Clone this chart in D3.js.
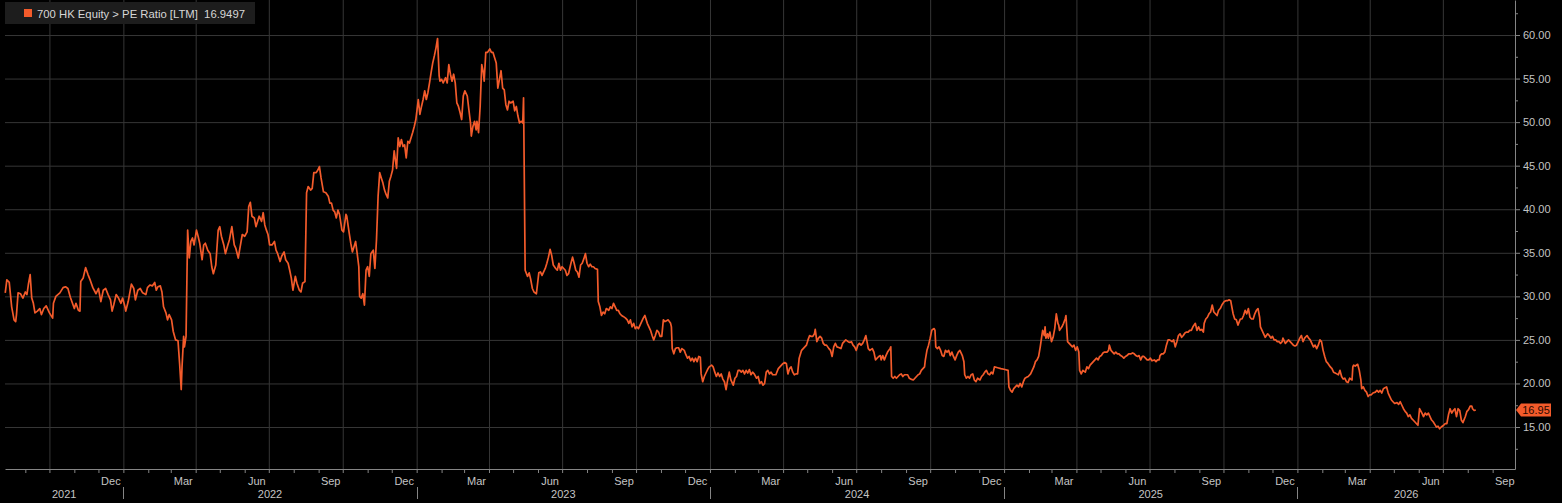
<!DOCTYPE html>
<html>
<head>
<meta charset="utf-8">
<script src="https://cdn.jsdelivr.net/npm/d3@7"></script>
<style>
  html, body { margin: 0; padding: 0; background: #000; }
  svg { display: block; font-family: "Liberation Sans", Arial, sans-serif; }
</style>
</head>
<body>
<div id="chart"></div>
<script>
// 700 HK Equity - PE Ratio [LTM] (MM-DD per year)
const d21 = ["08-07","08-09","08-12","08-15","08-18","08-20","08-21","08-23","08-26","08-29",
  "09-01","09-03","09-05","09-07","09-09","09-11","09-13","09-16","09-19","09-21",
  "09-24","09-27","10-01","10-05","10-06","10-09","10-14","10-18","10-21","10-24",
  "10-27","11-01","11-03","11-06","11-08","11-09","11-12","11-15","11-18","11-21",
  "11-24","11-28","12-01","12-04","12-07","12-10","12-13","12-16","12-18","12-20",
  "12-23","12-26","12-29","12-31"];
const v21 = [30.4,31.9,31.6,28.8,27.3,27.1,27.9,30.4,30.3,29.8,
  30.5,30.2,31.5,32.5,29.8,29.2,28.1,28.3,28.6,27.9,
  28.6,28.9,28.1,27.5,29.2,30.0,30.4,31.0,31.1,30.9,
  29.9,28.6,29.2,28.4,28.3,31.7,32.1,33.3,32.5,31.8,
  31.0,30.3,30.9,29.4,30.7,30.9,30.2,29.6,28.3,29.0,
  30.2,29.8,29.2,29.8];

const d22 = ["01-03","01-04","01-07","01-09","01-11","01-14","01-16","01-19","01-22","01-25",
  "01-29","01-31","02-03","02-06","02-09","02-11","02-13","02-16","02-18","02-20",
  "02-23","02-25","02-27","03-02","03-04","03-07","03-10","03-12","03-14","03-15",
  "03-17","03-18","03-20","03-22","03-24","03-26","03-28","03-30","04-02","04-04",
  "04-06","04-09","04-11","04-13","04-16","04-19","04-21","04-23","04-26","04-29",
  "05-01","05-03","05-06","05-08","05-11","05-13","05-16","05-19","05-21","05-24",
  "05-26","05-29","06-01","06-04","06-06","06-08","06-10","06-13","06-15","06-19",
  "06-22","06-24","06-26","06-28","06-30","07-02","07-05","07-08","07-10","07-12",
  "07-15","07-17","07-20","07-22","07-25","07-27","07-29","07-31","08-03","08-05",
  "08-08","08-10","08-12","08-15","08-17","08-19","08-22","08-24","08-26","08-29",
  "08-31","09-02","09-04","09-07","09-10","09-13","09-15","09-17","09-19","09-21",
  "09-23","09-25","09-27","09-30","10-02","10-05","10-06","10-09","10-11","10-13",
  "10-15","10-17","10-19","10-21","10-22","10-24","10-26","10-28","10-30","11-01",
  "11-03","11-05","11-08","11-10","11-12","11-14","11-16","11-18","11-20","11-22",
  "11-24","11-26","11-28","11-30","12-02","12-04","12-07","12-09","12-11","12-13",
  "12-15","12-17","12-19","12-21","12-23","12-25","12-27","12-29","12-31"];
const v22 = [28.8,28.3,29.4,30.4,31.4,30.9,29.6,30.7,30.9,30.4,
  30.2,31.0,31.3,31.2,31.6,30.7,31.1,31.2,30.5,28.8,
  28.1,27.3,27.9,27.3,26.0,25.0,24.9,22.3,19.3,21.9,
  25.4,24.2,25.4,37.6,34.4,36.3,36.7,35.9,37.6,36.9,
  36.1,34.2,35.9,36.1,35.3,34.9,33.4,32.6,33.6,37.6,
  38.0,36.9,35.9,34.9,35.9,36.5,38.0,35.9,35.5,34.4,
  35.5,37.1,36.9,37.4,40.3,40.8,39.2,39.0,38.0,39.2,
  38.6,39.6,38.2,37.6,37.1,35.9,35.9,36.3,35.3,34.9,
  34.0,34.6,35.1,34.2,33.8,33.0,32.1,30.7,32.3,31.5,
  30.7,30.5,31.5,31.7,41.9,42.6,42.2,42.4,44.2,44.2,
  44.5,44.9,43.6,42.0,41.9,41.5,40.7,40.7,39.9,39.7,
  39.0,39.9,39.4,37.6,37.4,39.4,39.2,37.3,36.1,35.1,
  35.7,36.3,34.9,33.4,30.0,29.8,30.3,29.0,33.0,33.4,
  32.3,34.9,35.3,33.2,36.5,41.5,44.2,43.6,43.0,42.2,
  41.7,41.3,43.2,43.8,44.5,46.7,44.7,48.2,47.2,48.0,
  47.2,47.4,45.9,47.8,47.6,48.2,48.8,49.5,50.3];

const d23 = ["01-03","01-05","01-07","01-09","01-11","01-13","01-15","01-17","01-19","01-21",
  "01-23","01-25","01-27","01-29","01-30","02-01","02-03","02-06","02-08","02-10",
  "02-12","02-14","02-16","02-18","02-20","02-22","02-24","02-26","02-28","03-02",
  "03-05","03-07","03-09","03-10","03-12","03-14","03-16","03-17","03-19","03-21",
  "03-23","03-25","03-26","03-28","03-30","04-02","04-04","04-06","04-08","04-10",
  "04-12","04-14","04-16","04-18","04-20","04-22","04-24","04-26","04-28","05-01",
  "05-03","05-05","05-07","05-09","05-11","05-13","05-14","05-16","05-19","05-21",
  "05-23","05-25","05-27","05-30","06-02","06-04","06-06","06-08","06-10","06-12",
  "06-14","06-16","06-18","06-20","06-23","06-25","06-27","06-29","07-01","07-03",
  "07-05","07-07","07-09","07-12","07-14","07-16","07-18","07-20","07-22","07-24",
  "07-26","07-28","07-30","08-01","08-03","08-05","08-07","08-09","08-11","08-14",
  "08-15","08-17","08-19","08-21","08-23","08-25","08-28","08-30","09-01","09-03",
  "09-05","09-07","09-09","09-11","09-13","09-15","09-18","09-20","09-22","09-24",
  "09-26","09-28","09-30","10-02","10-04","10-06","10-08","10-10","10-12","10-15",
  "10-17","10-19","10-21","10-23","10-25","10-27","10-29","10-31","11-02","11-04",
  "11-06","11-08","11-10","11-13","11-14","11-15","11-17","11-19","11-21","11-23",
  "11-25","11-27","11-30","12-02","12-04","12-06","12-08","12-10","12-12","12-14",
  "12-16","12-18","12-20","12-21","12-23","12-25","12-27","12-29","12-31"];
const v23 = [52.6,50.9,51.8,52.6,53.6,52.6,53.4,54.5,55.7,56.8,
  57.6,58.5,59.6,55.3,54.7,54.9,54.5,55.1,54.5,56.6,
  55.5,54.7,55.5,54.5,52.2,51.8,51.1,50.3,53.0,53.6,
  53.0,51.4,49.9,48.4,49.5,50.1,49.1,50.1,48.8,51.8,
  56.6,55.7,54.7,58.0,58.0,58.4,58.0,58.0,57.4,56.8,
  53.9,54.9,55.9,53.9,53.7,52.0,51.4,52.4,52.2,52.4,
  51.3,51.8,50.7,49.9,50.1,49.9,52.8,33.0,32.3,32.7,
  31.9,30.9,30.5,30.3,32.7,32.8,32.4,32.8,33.2,33.8,
  34.5,35.4,34.7,33.6,33.2,33.0,33.8,33.0,33.4,33.2,
  33.0,32.4,32.6,33.8,34.5,33.8,33.0,32.8,32.2,33.6,
  33.8,34.3,34.9,33.8,33.4,33.7,33.4,33.4,33.2,33.1,
  29.4,28.8,27.8,28.2,28.0,28.6,28.4,28.8,28.6,29.2,
  28.8,28.4,28.4,28.0,27.8,27.7,27.5,27.3,26.9,27.3,
  26.5,26.9,26.3,26.5,26.3,26.7,27.1,27.5,27.8,26.9,
  26.5,26.1,25.5,25.0,25.5,26.1,25.9,25.4,25.4,27.3,
  27.1,27.2,27.3,26.9,26.5,24.0,23.4,24.0,24.1,24.1,
  23.6,24.0,23.8,23.3,22.9,23.1,22.6,22.9,22.5,22.9,
  22.5,23.1,23.0,21.1,20.2,20.8,21.2,21.6,21.9];

const d24 = ["01-03","01-05","01-07","01-09","01-11","01-13","01-15","01-17","01-19","01-21",
  "01-23","01-25","01-27","01-30","02-01","02-03","02-05","02-07","02-09","02-11",
  "02-13","02-15","02-17","02-19","02-21","02-23","02-25","02-28","03-01","03-03",
  "03-05","03-07","03-09","03-11","03-13","03-15","03-17","03-19","03-21","03-23",
  "03-26","03-28","03-30","04-01","04-03","04-05","04-07","04-09","04-11","04-13",
  "04-15","04-17","04-19","04-21","04-24","04-26","04-28","04-30","05-02","05-04",
  "05-06","05-08","05-10","05-11","05-13","05-15","05-17","05-19","05-21","05-23",
  "05-25","05-28","05-30","06-01","06-03","06-05","06-07","06-10","06-12","06-14",
  "06-16","06-18","06-21","06-23","06-25","06-27","06-29","07-01","07-03","07-05",
  "07-07","07-09","07-11","07-13","07-14","07-16","07-18","07-21","07-23","07-25",
  "07-27","07-29","07-31","08-01","08-03","08-05","08-07","08-09","08-12","08-13",
  "08-14","08-16","08-18","08-20","08-22","08-24","08-26","08-28","08-30","09-01",
  "09-03","09-05","09-07","09-10","09-12","09-14","09-16","09-18","09-20","09-22",
  "09-24","09-25","09-27","09-29","10-01","10-03","10-04","10-06","10-07","10-08",
  "10-10","10-12","10-14","10-16","10-18","10-20","10-22","10-24","10-26","10-28",
  "10-30","11-01","11-03","11-05","11-07","11-10","11-12","11-13","11-15","11-17",
  "11-19","11-21","11-23","11-25","11-27","11-29","12-02","12-04","12-06","12-08",
  "12-10","12-12","12-14","12-16","12-18","12-20","12-24","12-28"];
const v24 = [22.1,21.9,21.3,20.8,21.2,20.8,21.1,20.5,20.2,19.3,
  20.4,21.3,20.4,19.8,20.6,20.8,21.5,21.5,21.3,21.5,
  21.1,21.5,21.2,21.6,21.0,21.3,21.1,20.6,20.8,20.0,
  20.2,19.8,20.0,21.3,21.5,21.1,21.3,21.0,21.0,21.0,
  21.7,21.9,22.1,22.3,22.4,22.3,21.1,21.7,21.9,21.3,
  21.0,21.1,21.1,22.9,23.8,24.0,24.2,24.4,25.0,25.5,
  25.4,25.4,25.7,26.2,24.8,25.2,25.4,25.2,24.6,24.4,
  24.4,24.0,23.8,23.1,24.2,24.6,24.2,24.1,24.0,24.6,
  24.8,25.0,24.8,24.7,24.8,24.4,24.2,23.8,24.4,24.6,
  24.4,24.6,25.0,25.5,25.0,24.0,23.8,24.0,23.6,22.7,
  22.9,23.1,23.2,22.7,23.2,22.7,23.2,23.6,24.0,24.2,
  20.8,20.6,20.8,20.6,20.8,21.0,21.1,20.8,21.0,21.0,
  21.0,20.6,20.5,20.4,20.6,20.8,21.0,21.1,21.5,21.7,
  21.9,22.7,23.8,24.4,25.2,26.1,26.2,26.3,26.1,24.2,
  24.0,24.2,23.8,23.2,23.1,23.8,23.6,23.8,23.2,23.6,
  23.1,22.7,23.2,23.6,23.8,23.2,22.5,21.0,20.6,20.8,
  20.6,21.0,21.1,20.4,20.2,20.6,20.4,20.8,21.0,21.3,
  21.5,21.1,21.0,21.3,21.1,21.9,21.8,21.7];

const d25 = ["01-02","01-06","01-07","01-09","01-11","01-13","01-15","01-17","01-19","01-21",
  "01-23","01-25","01-27","01-29","01-31","02-03","02-05","02-07","02-09","02-11",
  "02-13","02-15","02-17","02-18","02-20","02-21","02-22","02-24","02-25","02-27",
  "03-01","03-03","03-05","03-07","03-09","03-10","03-11","03-14","03-16","03-18",
  "03-19","03-21","03-23","03-25","03-27","03-29","03-31","04-02","04-04","04-05",
  "04-07","04-09","04-12","04-14","04-16","04-18","04-20","04-22","04-24","04-26",
  "04-28","04-30","05-02","05-04","05-06","05-09","05-11","05-12","05-14","05-16",
  "05-18","05-20","05-22","05-24","05-26","05-28","05-30","06-01","06-03","06-05",
  "06-08","06-10","06-12","06-14","06-16","06-18","06-20","06-22","06-24","06-26",
  "06-28","06-30","07-02","07-04","07-07","07-09","07-11","07-13","07-14","07-16",
  "07-18","07-20","07-22","07-24","07-26","07-29","07-31","08-02","08-04","08-06",
  "08-08","08-10","08-12","08-14","08-16","08-18","08-20","08-22","08-24","08-27",
  "08-29","08-31","09-02","09-04","09-06","09-07","09-09","09-11","09-13","09-15",
  "09-17","09-19","09-21","09-23","09-25","09-27","09-29","10-02","10-04","10-06",
  "10-08","10-10","10-11","10-13","10-15","10-17","10-19","10-22","10-24","10-26",
  "10-28","10-30","11-01","11-03","11-05","11-07","11-09","11-11","11-13","11-15",
  "11-16","11-18","11-20","11-22","11-25","11-27","11-29","12-01","12-03","12-05",
  "12-07","12-09","12-11","12-13","12-14","12-17","12-19","12-21","12-23","12-25",
  "12-27","12-29","12-31"];
const v25 = [21.6,21.5,19.6,19.2,19.0,19.4,19.6,19.8,19.6,20.0,
  19.6,20.2,20.6,20.7,20.8,21.1,21.5,21.9,22.5,22.7,
  23.1,24.2,25.5,26.1,25.5,26.5,25.2,25.7,25.2,25.9,
  24.8,25.3,26.3,28.0,26.9,26.7,26.1,26.5,26.9,27.4,
  27.8,24.8,24.6,24.4,24.2,24.4,23.8,24.2,23.6,21.5,
  21.1,21.5,21.3,21.9,21.7,22.1,22.3,22.5,22.7,22.9,
  22.7,23.1,23.2,23.5,23.6,23.6,23.8,24.4,23.8,23.6,
  23.4,23.6,23.4,23.4,23.2,23.1,22.9,23.1,23.2,23.4,
  23.4,23.5,23.4,23.2,23.1,23.2,22.7,23.1,23.1,22.9,
  22.7,22.7,22.9,22.6,22.7,22.5,22.7,22.7,23.2,23.4,
  23.4,23.6,24.4,25.0,25.0,24.8,25.0,24.2,24.8,25.5,
  25.7,25.3,25.5,25.8,25.9,25.9,26.1,26.1,26.5,26.9,
  26.1,26.5,26.1,26.2,25.9,26.9,27.4,27.6,28.0,28.2,
  29.0,28.2,28.0,27.8,28.4,28.6,29.0,29.4,29.5,29.5,
  29.6,29.5,29.0,28.0,27.4,27.3,26.7,27.4,27.4,27.8,
  28.4,28.0,28.6,27.6,27.4,27.4,28.0,28.4,28.6,27.6,
  26.5,26.1,25.7,25.3,25.7,25.5,25.2,25.4,25.0,25.0,
  24.8,24.8,24.6,24.8,25.2,24.6,24.8,25.0,24.8,24.6,
  24.4,24.3,24.4];

const d26 = ["01-02","01-04","01-06","01-08","01-10","01-13","01-15","01-17","01-19","01-21",
  "01-23","01-25","01-27","01-29","01-31","02-02","02-04","02-06","02-08","02-11",
  "02-13","02-15","02-17","02-19","02-21","02-23","02-25","02-27","03-01","03-03",
  "03-05","03-07","03-10","03-11","03-12","03-14","03-17","03-19","03-21","03-22",
  "03-24","03-26","03-28","03-30","04-01","04-03","04-05","04-08","04-10","04-12",
  "04-14","04-16","04-18","04-20","04-22","04-24","04-26","04-28","04-30","05-02",
  "05-05","05-07","05-09","05-11","05-13","05-15","05-17","05-19","05-21","05-23",
  "05-25","05-27","05-29","05-31","06-02","06-05","06-07","06-09","06-11","06-13",
  "06-15","06-17","06-19","06-21","06-23","06-25","06-27","06-29","07-02","07-04",
  "07-06","07-08","07-10","07-12","07-14","07-16","07-18","07-20","07-22","07-24",
  "07-26","07-29","07-31","08-02","08-04","08-06","08-07","08-09","08-11"];
const v26 = [24.8,25.2,25.5,24.8,25.2,25.5,25.2,25.0,24.6,24.2,
  24.4,24.0,24.4,25.0,24.8,23.8,23.1,22.5,22.3,21.9,
  21.7,21.3,21.2,21.1,21.0,21.5,20.8,20.5,20.6,20.2,
  20.1,20.6,20.4,21.9,22.1,22.0,22.2,21.5,20.4,19.4,
  19.6,19.2,19.0,18.5,18.7,18.7,18.9,19.0,19.2,19.0,
  19.2,18.9,19.4,19.5,19.6,18.9,18.5,18.1,17.9,17.7,
  17.8,17.6,17.9,17.5,17.1,16.8,16.6,16.2,16.4,16.0,
  15.8,15.6,15.4,15.2,17.1,16.6,16.2,16.6,16.4,16.6,
  16.2,15.8,15.6,15.3,15.0,15.1,14.8,15.0,15.2,15.4,
  15.4,16.4,17.1,16.6,16.9,17.1,16.2,17.1,16.9,15.8,
  15.5,16.2,16.8,17.0,17.4,17.4,17.1,16.9,16.9497];

const seriesName = "700 HK Equity > PE Ratio [LTM]";
const lastValue = 16.9497;

// axis ticks and labels
const yTicks = [15, 20, 25, 30, 35, 40, 45, 50, 55, 60];
const yMinorTicks = [12.5, 17.5, 22.5, 27.5, 32.5, 37.5, 42.5, 47.5, 52.5, 57.5, 62.5];
const monthLabels = ["2021-12", "2022-03", "2022-06", "2022-09", "2022-12", "2023-03", "2023-06",
  "2023-09", "2023-12", "2024-03", "2024-06", "2024-09", "2024-12", "2025-03", "2025-06",
  "2025-09", "2025-12", "2026-03", "2026-06", "2026-09"];
const yearLabels = [2021, 2022, 2023, 2024, 2025, 2026];

document.addEventListener("DOMContentLoaded", function () {
  const width = 1562, height = 503;
  const left = 5, right = 1515, top = 0, bottom = 469;
  const orange = "#f35b2b";
  const grid = "#363636";
  const axisCol = "#858585";
  const textCol = "#c4c4c4";

  const parse = d3.utcParse("%Y-%m-%d");
  const years = [[2021, d21, v21], [2022, d22, v22], [2023, d23, v23],
                 [2024, d24, v24], [2025, d25, v25], [2026, d26, v26]];
  const data = years.flatMap(([yr, ds, vs]) =>
    ds.map((d, i) => ({ date: parse(yr + "-" + d), value: vs[i] })));

  const svg = d3.select("#chart")
    .append("svg")
    .attr("width", width)
    .attr("height", height);

  svg.append("rect").attr("width", width).attr("height", height).attr("fill", "#000");

  const x = d3.scaleUtc()
    .domain([new Date(Date.UTC(2021, 7, 6, 17)), new Date(Date.UTC(2026, 8, 28, 19))])
    .range([left, right]);

  const y = d3.scaleLinear()
    .domain([10.18, 64.02])
    .range([bottom, top]);

  const [x0, x1] = x.domain();

  // grid
  svg.append("g")
    .attr("transform", `translate(${right},0)`)
    .call(d3.axisRight(y).tickValues(yTicks).tickSize(-(right - left)).tickFormat(""))
    .call(g => g.select(".domain").remove())
    .call(g => g.selectAll("line").attr("stroke", grid));

  svg.append("g")
    .attr("transform", `translate(0,${bottom})`)
    .call(d3.axisBottom(x).tickValues(d3.utcMonth.every(3).range(x0, x1)).tickSize(-(bottom - top)).tickFormat(""))
    .call(g => g.select(".domain").remove())
    .call(g => g.selectAll("line").attr("stroke", grid));

  // line
  const line = d3.line()
    .x(d => x(d.date))
    .y(d => y(d.value));

  svg.append("path")
    .datum(data)
    .attr("fill", "none")
    .attr("stroke", orange)
    .attr("stroke-width", 1.7)
    .attr("stroke-linejoin", "round")
    .attr("d", line);

  // y axis (right)
  svg.append("g")
    .attr("transform", `translate(${right},0)`)
    .call(d3.axisRight(y).tickValues(yMinorTicks).tickSize(3).tickSizeOuter(0).tickFormat(""))
    .call(g => g.select(".domain").attr("stroke", axisCol))
    .call(g => g.selectAll("line").attr("stroke", axisCol));

  svg.append("g")
    .attr("transform", `translate(${right},0)`)
    .call(d3.axisRight(y).tickValues(yTicks).tickSize(5).tickPadding(3).tickFormat(d3.format(".2f")))
    .call(g => g.select(".domain").remove())
    .call(g => g.selectAll("line").attr("stroke", axisCol))
    .call(g => g.selectAll("text").attr("fill", textCol).attr("font-size", 11)
      .attr("font-family", "Liberation Sans, Arial, sans-serif"));

  // x axis (monthly ticks)
  svg.append("g")
    .attr("transform", `translate(0,${bottom})`)
    .call(d3.axisBottom(x).tickValues(d3.utcMonth.range(x0, x1)).tickSize(4).tickSizeOuter(0).tickFormat(""))
    .call(g => g.select(".domain").attr("stroke", axisCol))
    .call(g => g.selectAll("line").attr("stroke", axisCol));

  // month labels at mid-month
  const fmtMonth = d3.utcFormat("%b");
  svg.append("g")
    .selectAll("text")
    .data(monthLabels.map(m => parse(m + "-01")))
    .join("text")
    .attr("x", d => (x(d) + x(d3.utcMonth.offset(d, 1))) / 2)
    .attr("y", 485)
    .attr("text-anchor", "middle")
    .attr("font-size", 11)
    .attr("fill", textCol)
    .text(d => fmtMonth(d));

  // year labels centred on visible part of each year
  svg.append("g")
    .selectAll("text")
    .data(yearLabels)
    .join("text")
    .attr("x", yr => {
      const a = Math.max(left, x(new Date(Date.UTC(yr, 0, 1))));
      const b = Math.min(right, x(new Date(Date.UTC(yr + 1, 0, 1))));
      return (a + b) / 2;
    })
    .attr("y", 498)
    .attr("text-anchor", "middle")
    .attr("font-size", 11)
    .attr("fill", textCol)
    .text(yr => yr);

  // year dividers
  svg.append("g")
    .selectAll("line")
    .data(yearLabels.slice(1))
    .join("line")
    .attr("x1", yr => Math.round(x(new Date(Date.UTC(yr, 0, 1)))) + 0.5)
    .attr("x2", yr => Math.round(x(new Date(Date.UTC(yr, 0, 1)))) + 0.5)
    .attr("y1", 487)
    .attr("y2", 499)
    .attr("stroke", axisCol);

  // last value marker
  const ly = y(lastValue);
  svg.append("path")
    .attr("d", `M${right + 1},${ly} L${right + 6},${ly - 6.5} H${right + 36} V${ly + 6.5} H${right + 6} Z`)
    .attr("fill", orange);
  svg.append("text")
    .attr("x", right + 21)
    .attr("y", ly + 4)
    .attr("text-anchor", "middle")
    .attr("font-size", 11)
    .attr("fill", "#2a0800")
    .text(d3.format(".2f")(lastValue));

  // legend
  const legend = svg.append("g");
  legend.append("rect")
    .attr("x", 5).attr("y", 2)
    .attr("width", 250).attr("height", 22)
    .attr("fill", "#1d1d1d");
  legend.append("rect")
    .attr("x", 24).attr("y", 9)
    .attr("width", 8).attr("height", 8)
    .attr("fill", orange);
  legend.append("text")
    .attr("x", 37).attr("y", 17.5)
    .attr("font-size", 11.3)
    .attr("fill", "#d6d6d6")
    .style("white-space", "pre")
    .text(seriesName + "  " + lastValue);
});
</script>
</body>
</html>
